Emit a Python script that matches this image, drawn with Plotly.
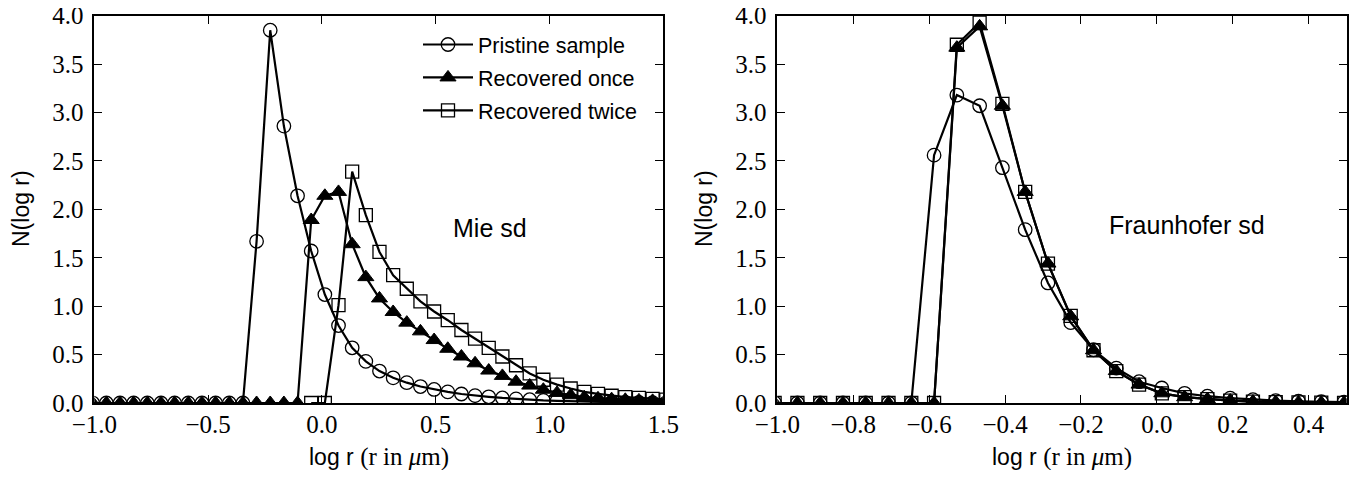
import plotly.graph_objects as go

# log r sampling grid (log10 of radius in micrometres)
log_r = [-1.007, -0.947, -0.887, -0.827, -0.767, -0.707, -0.647, -0.587, -0.527, -0.467,
         -0.407, -0.347, -0.287, -0.227, -0.167, -0.107, -0.047, 0.013, 0.073, 0.133,
         0.193, 0.253, 0.313, 0.373, 0.433, 0.493, 0.553, 0.613, 0.673, 0.733,
         0.793, 0.853, 0.913, 0.973, 1.033, 1.093, 1.153, 1.213, 1.273, 1.333,
         1.393, 1.453, 1.513]

# ---- Mie size distribution (left panel) ----
mie_pristine = [0, 0, 0, 0, 0, 0, 0, 0, 0, 0, 0, 0,
                1.67, 3.85, 2.86, 2.14, 1.57, 1.12, 0.80, 0.57, 0.43, 0.33,
                0.26, 0.21, 0.17, 0.14, 0.115, 0.093, 0.076, 0.064, 0.052, 0.042,
                0.034, 0.027, 0.022, 0.017, 0.014, 0.011, 0.009, 0.007, 0.005, 0.004, 0.003]
mie_once = [0, 0, 0, 0, 0, 0, 0, 0, 0, 0, 0, 0, 0, 0, 0, 0,
            1.89, 2.14, 2.18, 1.64, 1.30, 1.08, 0.94, 0.83, 0.74, 0.65,
            0.56, 0.48, 0.41, 0.335, 0.28, 0.22, 0.18, 0.137, 0.104, 0.08,
            0.06, 0.048, 0.04, 0.033, 0.027, 0.022, 0.018]
mie_twice_x = log_r[16:]
mie_twice = [0, 0, 1.01, 2.39, 1.94, 1.56, 1.32, 1.18, 1.05, 0.945,
             0.855, 0.754, 0.665, 0.57, 0.48, 0.39, 0.305, 0.24, 0.19, 0.15,
             0.115, 0.095, 0.075, 0.06, 0.053, 0.043, 0.035]

# ---- Fraunhofer size distribution (right panel) ----
fr_x = log_r[:26]
fr_pristine = [0, 0, 0, 0, 0, 0, 0, 2.56, 3.18, 3.07, 2.43, 1.79, 1.24, 0.83,
               0.55, 0.36, 0.22, 0.155, 0.10, 0.07, 0.05, 0.035, 0.025, 0.018, 0.013, 0.01]
fr_once = [0, 0, 0, 0, 0, 0, 0, 0, 3.67, 3.89, 3.07, 2.18, 1.44, 0.895,
           0.545, 0.33, 0.19, 0.10, 0.06, 0.04, 0.025, 0.015, 0.01, 0.006, 0.004, 0.002]
fr_twice = [0, 0, 0, 0, 0, 0, 0, 0, 3.70, 3.93, 3.09, 2.18, 1.44, 0.90,
            0.545, 0.33, 0.19, 0.10, 0.06, 0.04, 0.025, 0.015, 0.01, 0.006, 0.004, 0.002]

series_names = ["Pristine sample", "Recovered once", "Recovered twice"]
left_ticks = [-1.0, -0.5, 0.0, 0.5, 1.0, 1.5]
right_ticks = [-1.0, -0.8, -0.6, -0.4, -0.2, 0.0, 0.2, 0.4]
y_ticks = [0.0, 0.5, 1.0, 1.5, 2.0, 2.5, 3.0, 3.5, 4.0]

# page body has an 8px margin: size the figure to fit and shift coordinates
OFF = 8
W, H = 1359 - 2 * OFF, 478 - 2 * OFF
SANS = "Liberation Sans"
SERIF = "Liberation Serif"


def px(x):
    return (x - OFF) / W


def py(y):
    return (H - (y - OFF)) / H


marker_styles = [
    dict(symbol="circle-open", size=13.5, color="black", line=dict(width=1.3, color="black")),
    dict(symbol="triangle-up", size=14, color="black", line=dict(width=1, color="black")),
    dict(symbol="square-open", size=13, color="black", line=dict(width=1.3, color="black")),
]

fig = go.Figure()

left_data = [(log_r, mie_pristine), (log_r, mie_once), (mie_twice_x, mie_twice)]
for i, (xs, ys) in enumerate(left_data):
    fig.add_trace(go.Scatter(
        x=xs, y=ys, mode="lines+markers", name=series_names[i],
        line=dict(color="black", width=2.2), marker=marker_styles[i],
        legendgroup="g%d" % i, showlegend=True,
        xaxis="x", yaxis="y"))

right_data = [(fr_x, fr_pristine), (fr_x, fr_once), (fr_x, fr_twice)]
for i, (xs, ys) in enumerate(right_data):
    fig.add_trace(go.Scatter(
        x=xs, y=ys, mode="lines+markers", name=series_names[i],
        line=dict(color="black", width=2.2), marker=marker_styles[i],
        showlegend=False, xaxis="x2", yaxis="y2"))

ax_common = dict(
    showline=True, linecolor="black", linewidth=1.8, mirror="allticks",
    ticks="inside", ticklen=8, tickwidth=1.3, tickcolor="black",
    showgrid=False, zeroline=False, automargin=False,
    ticklabeloverflow="allow",
    tickfont=dict(family=SERIF, size=25, color="black"),
    tickformat=".1f",
)

y0, y1 = py(403), py(15.7)

fig.update_layout(
    width=W, height=H, autosize=False,
    margin=dict(l=0, r=0, t=0, b=0, pad=0, autoexpand=False),
    paper_bgcolor="white", plot_bgcolor="white",
    xaxis=dict(domain=[px(94.3), px(663.3)], range=[-1.0, 1.5], tickvals=left_ticks,
               anchor="y", ticklabelstandoff=-2, **ax_common),
    yaxis=dict(domain=[y0, y1], range=[0, 4.0], tickvals=y_ticks, anchor="x",
               ticklabelstandoff=4, **ax_common),
    xaxis2=dict(domain=[px(777.3), px(1346.7)], range=[-1.0, 0.5], tickvals=right_ticks,
                anchor="y2", ticklabelstandoff=-2, **ax_common),
    yaxis2=dict(domain=[y0, y1], range=[0, 4.0], tickvals=y_ticks, anchor="x2",
                ticklabelstandoff=4, **ax_common),
    legend=dict(x=px(418), y=py(24), xanchor="left", yanchor="top",
                bgcolor="rgba(0,0,0,0)", borderwidth=0,
                font=dict(family=SANS, size=21.5, color="black"),
                itemwidth=50, tracegroupgap=2, traceorder="grouped"),
    showlegend=True,
)

xtitle = ('log r <span style="font-family:Liberation Serif;font-size:25px">'
          '(r in <i>μ</i>m)</span>')
annots = [
    dict(text=xtitle, x=px(378.8), y=py(456.5), xref="paper", yref="paper",
         showarrow=False, xanchor="center", yanchor="middle",
         font=dict(family=SANS, size=23, color="black")),
    dict(text=xtitle, x=px(1062), y=py(456.5), xref="paper", yref="paper",
         showarrow=False, xanchor="center", yanchor="middle",
         font=dict(family=SANS, size=23, color="black")),
    dict(text="N(log r)", x=px(21), y=py(209), xref="paper", yref="paper",
         showarrow=False, textangle=-90, xanchor="center", yanchor="middle",
         font=dict(family=SANS, size=23, color="black")),
    dict(text="N(log r)", x=px(704), y=py(209), xref="paper", yref="paper",
         showarrow=False, textangle=-90, xanchor="center", yanchor="middle",
         font=dict(family=SANS, size=23, color="black")),
    dict(text="Mie sd", x=0.74, y=1.81, xref="x", yref="y", showarrow=False,
         xanchor="center", yanchor="middle",
         font=dict(family=SANS, size=25, color="black")),
    dict(text="Fraunhofer sd", x=0.078, y=1.84, xref="x2", yref="y2", showarrow=False,
         xanchor="center", yanchor="middle",
         font=dict(family=SANS, size=25, color="black")),
]
fig.update_layout(annotations=annots)

fig.write_html("out.html")
